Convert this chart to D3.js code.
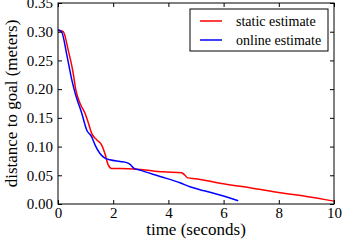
<!DOCTYPE html>
<html>
<head>
<meta charset="utf-8">
<script src="https://cdn.jsdelivr.net/npm/d3@7"></script>
<style>
  body { margin: 0; background: #fff; }
  svg { display: block; }
</style>
</head>
<body>
<div class="container"></div>
<script>
// static estimate (time s, distance m)
const staticT = [0, 0.19, 0.37, 0.55, 0.64, 0.8, 0.98, 1.1, 1.22, 1.4, 1.58, 1.7, 1.82, 1.94, 2.25, 3.0, 3.8, 4.48, 4.6, 4.7, 5.0, 5.87, 7.0, 8.04, 9.0, 10.0];
const staticD = [0.303, 0.300, 0.268, 0.228, 0.200, 0.175, 0.158, 0.141, 0.123, 0.112, 0.103, 0.088, 0.068, 0.062, 0.062, 0.060, 0.056, 0.0545, 0.050, 0.0455, 0.044, 0.036, 0.028, 0.0197, 0.013, 0.005];

// online estimate
const onlineT = [0, 0.13, 0.31, 0.5, 0.62, 0.74, 0.86, 1.04, 1.22, 1.34, 1.52, 1.7, 1.88, 2.25, 2.49, 2.61, 2.73, 2.97, 3.7, 4.42, 4.78, 5.3, 5.87, 6.2, 6.53];
const onlineD = [0.303, 0.300, 0.262, 0.216, 0.193, 0.175, 0.158, 0.129, 0.117, 0.103, 0.088, 0.080, 0.077, 0.074, 0.072, 0.069, 0.063, 0.059, 0.048, 0.037, 0.030, 0.023, 0.0157, 0.011, 0.0057];

const xTicks = [0, 2, 4, 6, 8, 10];
const yTicks = [0, 0.05, 0.10, 0.15, 0.20, 0.25, 0.30, 0.35];
const seriesNames = ["static estimate", "online estimate"];
const seriesColors = ["#ff0000", "#0000ff"];

const serif = "'Liberation Serif', 'Times New Roman', 'DejaVu Serif', serif";

const w = 342, h = 240,
    padding = { top: 3, bottom: 36, left: 58, right: 8 };

const xScale = d3.scaleLinear().domain([0, 10]).range([padding.left, w - padding.right]);
const yScale = d3.scaleLinear().domain([0, 0.35]).range([h - padding.bottom, padding.top]);

const svg = d3.select("div.container").append("svg")
    .attr("width", w)
    .attr("height", h)
    .attr("font-family", serif);

const line = d3.line()
    .x(d => xScale(d[0]))
    .y(d => yScale(d[1]))
    .curve(d3.curveMonotoneX);

const series = [
    d3.zip(staticT, staticD),
    d3.zip(onlineT, onlineD)
];

svg.selectAll("path.series")
    .data(series)
    .enter()
    .append("path")
    .attr("class", "series")
    .attr("d", line)
    .attr("fill", "none")
    .attr("stroke", (d, i) => seriesColors[i])
    .attr("stroke-width", 1.5);

// axes, ticks pointing inward on all sides
const tickLen = 4;
const plotW = w - padding.left - padding.right,
    plotH = h - padding.top - padding.bottom;

const styleAxis = g => {
    g.attr("font-family", serif).attr("font-size", 15);
    g.select(".domain").remove();
    g.selectAll("line").attr("stroke", "#000");
    g.selectAll("text").attr("fill", "#000");
};

svg.append("g")
    .attr("transform", "translate(0," + (h - padding.bottom) + ")")
    .call(d3.axisBottom(xScale).tickValues(xTicks).tickSize(-tickLen).tickPadding(3).tickFormat(d3.format("d")))
    .call(styleAxis);

svg.append("g")
    .attr("transform", "translate(0," + padding.top + ")")
    .call(d3.axisTop(xScale).tickValues(xTicks).tickSize(-tickLen).tickFormat(""))
    .call(styleAxis);

svg.append("g")
    .attr("transform", "translate(" + padding.left + ",0)")
    .call(d3.axisLeft(yScale).tickValues(yTicks).tickSize(-tickLen).tickPadding(5).tickFormat(d3.format(".2f")))
    .call(styleAxis);

svg.append("g")
    .attr("transform", "translate(" + (w - padding.right) + ",0)")
    .call(d3.axisRight(yScale).tickValues(yTicks).tickSize(-tickLen).tickFormat(""))
    .call(styleAxis);

svg.append("rect")
    .attr("x", padding.left)
    .attr("y", padding.top)
    .attr("width", plotW)
    .attr("height", plotH)
    .attr("fill", "none")
    .attr("stroke", "#000")
    .attr("stroke-width", 1);

svg.append("text")
    .attr("x", padding.left + plotW / 2)
    .attr("y", 235)
    .attr("text-anchor", "middle")
    .attr("font-size", 17)
    .text("time (seconds)");

svg.append("text")
    .attr("transform", "translate(17," + (padding.top + plotH / 2) + ") rotate(-90)")
    .attr("text-anchor", "middle")
    .attr("font-size", 17)
    .text("distance to goal (meters)");

// legend
const legend = svg.append("g").attr("transform", "translate(190,9)");
legend.append("rect")
    .attr("width", 138)
    .attr("height", 42)
    .attr("fill", "#fff")
    .attr("stroke", "#000");

const items = legend.selectAll("g.item")
    .data(seriesNames)
    .enter()
    .append("g")
    .attr("class", "item")
    .attr("transform", (d, i) => "translate(0," + (12 + i * 19) + ")");

items.append("line")
    .attr("x1", 10).attr("x2", 32)
    .attr("stroke", (d, i) => seriesColors[i])
    .attr("stroke-width", 1.5);

items.append("text")
    .attr("x", 46)
    .attr("y", 4.5)
    .attr("font-size", 14)
    .text(d => d);
</script>
</body>
</html>
